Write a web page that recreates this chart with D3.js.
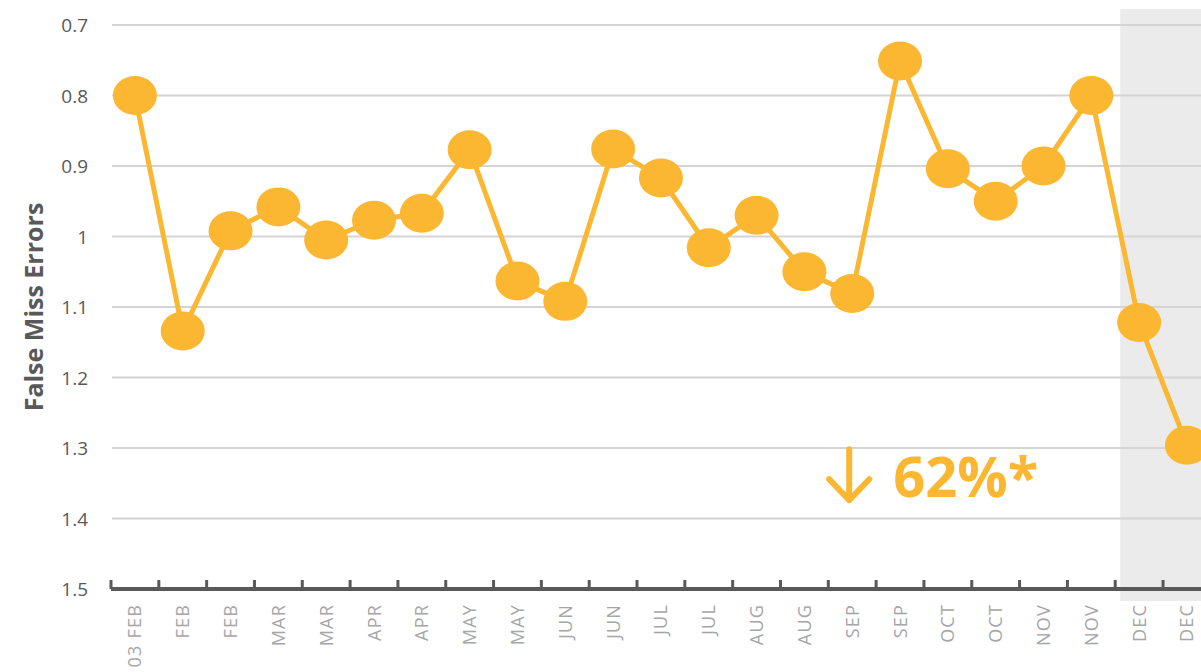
<!DOCTYPE html>
<html>
<head>
<meta charset="utf-8">
<script src="https://cdn.jsdelivr.net/npm/d3@7"></script>
<style>
  body { margin: 0; background: #fff; }
  svg { display: block; }
</style>
</head>
<body>
<div id="main"></div>
<script>
/// chart data ///
const months = ['03 FEB', 'FEB', 'FEB', 'MAR', 'MAR', 'APR', 'APR', 'MAY', 'MAY', 'JUN',
                'JUN', 'JUL', 'JUL', 'AUG', 'AUG', 'SEP', 'SEP', 'OCT', 'OCT', 'NOV',
                'NOV', 'DEC', 'DEC'];
const errors = [0.80, 1.134, 0.992, 0.958, 1.005, 0.977, 0.967, 0.877, 1.063, 1.092,
                0.876, 0.917, 1.016, 0.970, 1.050, 1.081, 0.751, 0.904, 0.950, 0.900,
                0.80, 1.122, 1.296];
const yTicks = [0.7, 0.8, 0.9, 1, 1.1, 1.2, 1.3, 1.4, 1.5];
const shadedFrom = 21;     // index where the shaded period starts
const dropLabel = '62%*';

const w = 1201;
const h = 672;
const orange = '#FBB731';

const svg = d3.select('#main')
              .append('svg')
              .attr('width', w)
              .attr('height', h);

// band scale runs off the right edge like in the original
const x = d3.scaleBand()
            .domain(d3.range(months.length))
            .range([111, 111 + 47.82 * months.length]);

const y = d3.scaleLinear()
            .domain([0.7, 1.5])
            .range([25, 589]);

// shaded block for the last period
svg.append('rect')
   .attr('x', x(shadedFrom) + 5)
   .attr('y', 9)
   .attr('width', w - x(shadedFrom))
   .attr('height', 592)
   .attr('fill', '#ebebeb');

// gridlines
svg.append('g')
   .selectAll('line')
   .data(yTicks.slice(0, -1))
   .enter()
   .append('line')
   .attr('x1', 112)
   .attr('x2', w)
   .attr('y1', d => y(d))
   .attr('y2', d => y(d))
   .attr('stroke', '#d4d4d4')
   .attr('stroke-width', 2);

// y labels
svg.append('g')
   .selectAll('text')
   .data(yTicks)
   .enter()
   .append('text')
   .attr('x', 88)
   .attr('y', d => y(d) + 7)
   .attr('text-anchor', 'end')
   .attr('fill', '#595959')
   .style('font-family', 'Open Sans, sans-serif')
   .style('font-size', '19px')
   .text(d => d);

// y axis title
svg.append('text')
   .attr('transform', 'translate(43,307) rotate(-90)')
   .attr('text-anchor', 'middle')
   .attr('fill', '#595959')
   .style('font-family', 'Open Sans, sans-serif')
   .style('font-weight', 'bold')
   .style('font-size', '25px')
   .text('False Miss Errors');

// x axis line + ticks between bands
svg.append('line')
   .attr('x1', 111)
   .attr('x2', w)
   .attr('y1', y(1.5))
   .attr('y2', y(1.5))
   .attr('stroke', '#595959')
   .attr('stroke-width', 4);

svg.append('g')
   .selectAll('line')
   .data(d3.range(months.length))
   .enter()
   .append('line')
   .attr('x1', d => x(d))
   .attr('x2', d => x(d))
   .attr('y1', y(1.5))
   .attr('y2', y(1.5) - 9)
   .attr('stroke', '#595959')
   .attr('stroke-width', 3);

// x labels (rotated)
svg.append('g')
   .selectAll('text')
   .data(months)
   .enter()
   .append('text')
   .attr('transform', (d, i) => `translate(${x(i) + x.bandwidth() / 2 + 6.5},604) rotate(-90)`)
   .attr('text-anchor', 'end')
   .attr('fill', '#a6a6a6')
   .style('font-family', 'Open Sans, sans-serif')
   .style('font-size', '18px')
   .style('letter-spacing', '1.2px')
   .text(d => d);

// line
const line = d3.line()
               .x((d, i) => x(i) + x.bandwidth() / 2)
               .y(d => y(d));

svg.append('path')
   .datum(errors)
   .attr('d', line)
   .attr('fill', 'none')
   .attr('stroke', orange)
   .attr('stroke-width', 5)
   .attr('stroke-linejoin', 'round');

// markers
svg.append('g')
   .selectAll('ellipse')
   .data(errors)
   .enter()
   .append('ellipse')
   .attr('cx', (d, i) => x(i) + x.bandwidth() / 2)
   .attr('cy', d => y(d))
   .attr('rx', 22)
   .attr('ry', 19.5)
   .attr('fill', orange);

// annotation: down arrow + percentage
const ax = x(15) + x.bandwidth() / 2 - 3;
const ay = y(1.34);
svg.append('path')
   .attr('d', `M${ax},${ay - 27} L${ax},${ay + 24} M${ax - 20},${ay + 3} L${ax},${ay + 24} L${ax + 20},${ay + 3}`)
   .attr('fill', 'none')
   .attr('stroke', orange)
   .attr('stroke-width', 6)
   .attr('stroke-linecap', 'round')
   .attr('stroke-linejoin', 'round');

svg.append('text')
   .attr('x', ax + 44)
   .attr('y', ay + 21)
   .attr('fill', orange)
   .style('font-family', 'Open Sans, sans-serif')
   .style('font-weight', 'bold')
   .style('font-size', '56px')
   .text(dropLabel);
</script>
</body>
</html>
